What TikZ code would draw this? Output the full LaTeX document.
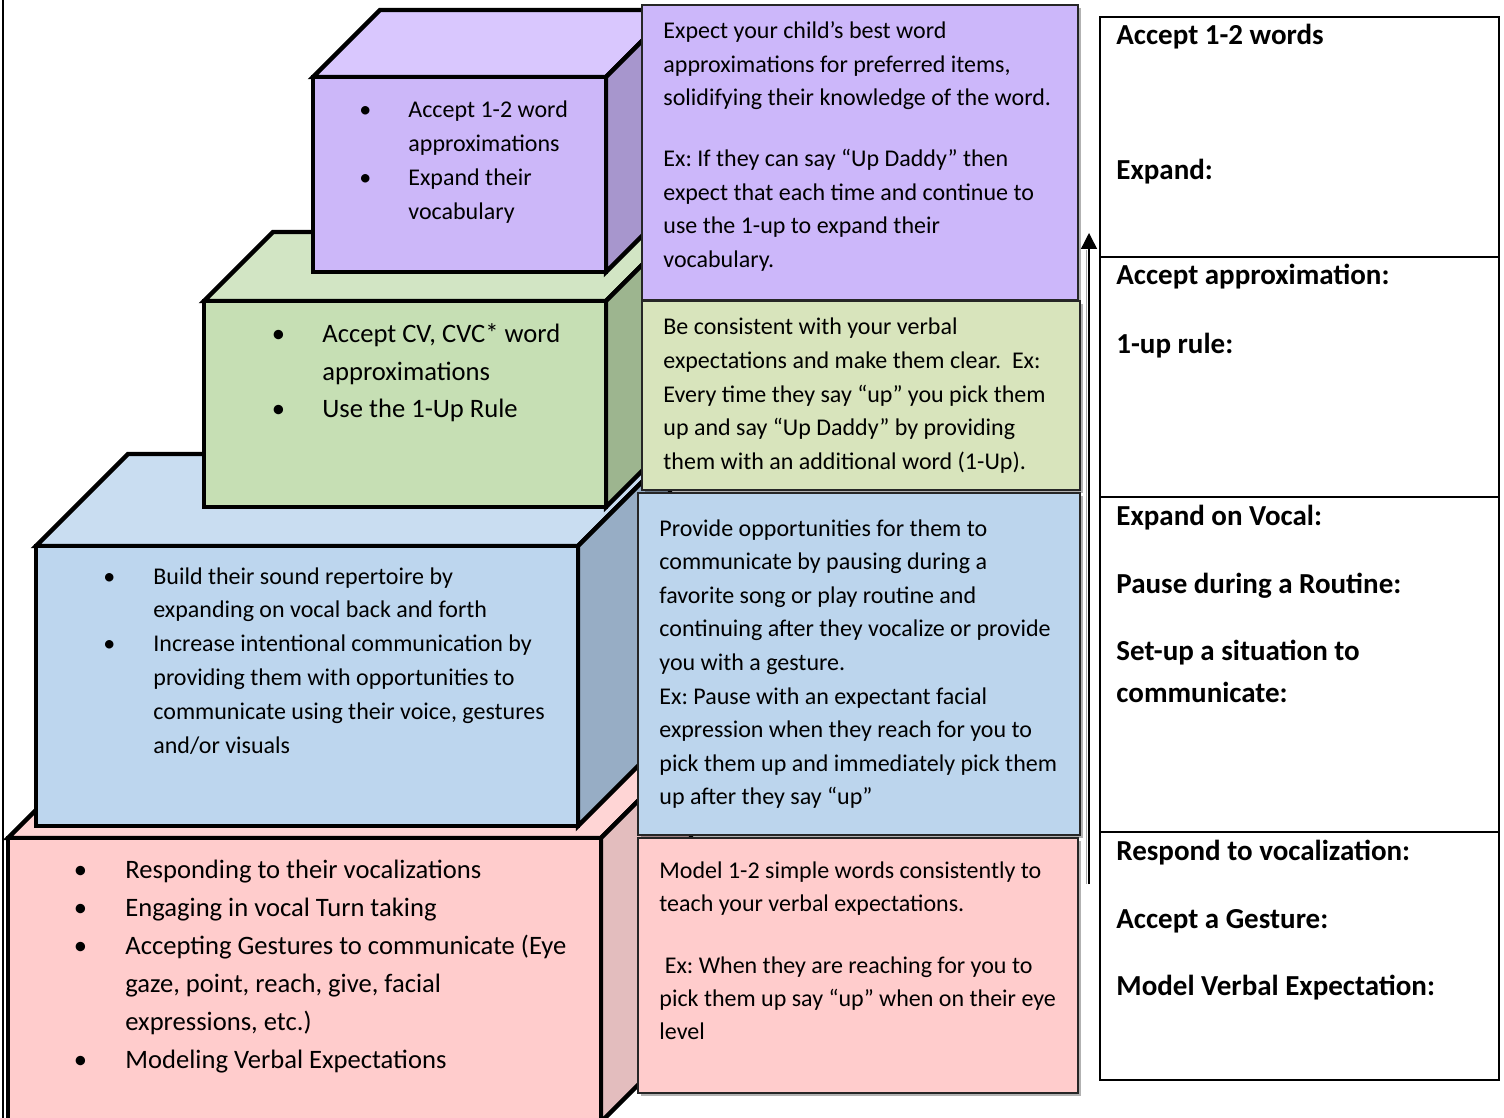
\documentclass[tikz,border=0pt]{standalone}
\usepackage{fontspec}
\setmainfont{Carlito}
\usetikzlibrary{arrows.meta,shadows}
\frenchspacing

\definecolor{puT}{RGB}{217,199,254}
\definecolor{puF}{RGB}{204,183,249}
\definecolor{puR}{RGB}{167,150,205}
\definecolor{puM}{RGB}{204,183,250}
\definecolor{grT}{RGB}{210,229,196}
\definecolor{grF}{RGB}{198,223,180}
\definecolor{grR}{RGB}{157,181,143}
\definecolor{grM}{RGB}{216,228,188}
\definecolor{blT}{RGB}{201,221,241}
\definecolor{blF}{RGB}{189,214,238}
\definecolor{blR}{RGB}{151,173,197}
\definecolor{blM}{RGB}{188,213,237}
\definecolor{piT}{RGB}{255,213,213}
\definecolor{piF}{RGB}{255,204,204}
\definecolor{piR}{RGB}{227,189,190}
\definecolor{piM}{RGB}{255,204,204}

\newcommand\drawcube[8]{%
  \filldraw[cubeface, fill=#6] (#1,#2) -- (#1+#5,#2-#5) -- (#3+#5,#2-#5) -- (#3,#2) -- cycle;
  \filldraw[cubeface, fill=#8] (#3,#2) -- (#3+#5,#2-#5) -- (#3+#5,#4-#5) -- (#3,#4) -- cycle;
  \filldraw[cubeface, fill=#7] (#1,#2) rectangle (#3,#4);
}

\tikzset{
  cubeface/.style={draw=black, line width=2.2pt, line join=miter},
  midbox/.style={draw=black!85, line width=0.8pt,
    drop shadow={shadow xshift=1.3pt, shadow yshift=-1.3pt, opacity=0.3, fill=black}},
  txt/.style={inner sep=0pt, anchor=base west},
  lbl/.style={inner sep=0pt, anchor=base west, font=\fontsize{14.5}{17}\selectfont\bfseries},
  tblline/.style={draw=black, line width=1pt},
}

\begin{document}
\begin{tikzpicture}[x=0.5pt,y=-0.5pt]
\clip (0,0) rectangle (1504,1118);
\fill[white] (0,0) rectangle (1504,1118);

% left page edge
\coordinate (edgeT) at (3,0);
\coordinate (edgeB) at (3,1118);
\draw[line width=0.7pt] (edgeT) -- (edgeB);

% cubes (bottom to top)
\drawcube{8}{838}{601}{1122}{90}{piT}{piF}{piR}
\drawcube{36}{546}{578}{826}{92}{blT}{blF}{blR}
\drawcube{204}{301}{606}{507}{69}{grT}{grF}{grR}
\drawcube{313}{77}{606}{272}{67}{puT}{puF}{puR}

% cube texts
\node[txt] (cPu) at (365,118) {\fontsize{12}{16.85}\selectfont
 \begin{tabular}[t]{@{}l@{\hspace{21.5pt}}l@{}}
 \makebox[0pt]{•} & Accept 1-2 word\\
  & approximations\\
 \makebox[0pt]{•} & Expand their\\
  & vocabulary
 \end{tabular}};

\node[txt] (cGr) at (278,343) {\fontsize{13.3}{18.75}\selectfont
 \begin{tabular}[t]{@{}l@{\hspace{22pt}}l@{}}
 \makebox[0pt]{•} & Accept CV, CVC* word\\
  & approximations\\
 \makebox[0pt]{•} & Use the 1-Up Rule
 \end{tabular}};

\node[txt] (cBl) at (109,584) {\fontsize{12}{16.9}\selectfont
 \begin{tabular}[t]{@{}l@{\hspace{22pt}}l@{}}
 \makebox[0pt]{•} & Build their sound repertoire by\\
  & expanding on vocal back and forth\\
 \makebox[0pt]{•} & Increase intentional communication by\\
  & providing them with opportunities to\\
  & communicate using their voice, gestures\\
  & and/or visuals
 \end{tabular}};

\node[txt] (cPi) at (80,878) {\fontsize{13.3}{19}\selectfont
 \begin{tabular}[t]{@{}l@{\hspace{22.5pt}}l@{}}
 \makebox[0pt]{•} & Responding to their vocalizations\\
 \makebox[0pt]{•} & Engaging in vocal Turn taking\\
 \makebox[0pt]{•} & Accepting Gestures to communicate (Eye\\
  & gaze, point, reach, give, facial\\
  & expressions, etc.)\\
 \makebox[0pt]{•} & Modeling Verbal Expectations
 \end{tabular}};

% middle boxes
\path[midbox, fill=puM] (642,5) rectangle (1078,300);
\path[midbox, fill=grM] (642,301) rectangle (1080,490);
\path[midbox, fill=blM] (638,493) rectangle (1080,835);
\path[midbox, fill=piM] (638,838) rectangle (1078,1093);

\node[txt] (mPu) at (663,39) {\fontsize{12}{16.75}\selectfont
 \begin{tabular}[t]{@{}l@{}}
 Expect your child’s best word\\
 approximations for preferred items,\\
 solidifying their knowledge of the word.\\[13.75pt]
 Ex: If they can say “Up Daddy” then\\
 expect that each time and continue to\\
 use the 1-up to expand their\\
 vocabulary.
 \end{tabular}};

\node[txt] (mGr) at (663,335) {\fontsize{12}{16.75}\selectfont
 \begin{tabular}[t]{@{}l@{}}
 Be consistent with your verbal\\
 expectations and make them clear.\ \ Ex:\\
 Every time they say “up” you pick them\\
 up and say “Up Daddy” by providing\\
 them with an additional word (1-Up).
 \end{tabular}};

\node[txt] (mBl) at (659,536) {\fontsize{12}{16.8}\selectfont
 \begin{tabular}[t]{@{}l@{}}
 Provide opportunities for them to\\
 communicate by pausing during a\\
 favorite song or play routine and\\
 continuing after they vocalize or provide\\
 you with a gesture.\\
 Ex: Pause with an expectant facial\\
 expression when they reach for you to\\
 pick them up and immediately pick them\\
 up after they say “up”
 \end{tabular}};

\node[txt] (mPi) at (659,878) {\fontsize{12}{16.5}\selectfont
 \begin{tabular}[t]{@{}l@{}}
 Model 1-2 simple words consistently to\\
 teach your verbal expectations.\\[14.5pt]
 \ Ex: When they are reaching for you to\\
 pick them up say “up” when on their eye\\
 level
 \end{tabular}};

% arrow
\coordinate (arrS) at (1089,884);
\coordinate (arrE) at (1089,233);
\draw[black!35, line width=0.6pt] ([xshift=-1.2pt]arrS) -- ([xshift=-1.2pt]1089,250);
\draw[line width=0.7pt, -{Triangle[width=8pt,length=8pt]}] (arrS) -- (arrE);

% right table
\draw[tblline] (1100,17) rectangle (1499,1080);
\draw[tblline] (1100,257) -- (1499,257);
\draw[tblline] (1100,497) -- (1499,497);
\draw[tblline] (1100,832) -- (1499,832);

\node[lbl] (r1) at (1116,45) {Accept 1-2 words};
\node[lbl] (r2) at (1116,180) {Expand:};
\node[lbl] (r3) at (1116,285) {Accept approximation:};
\node[lbl] (r4) at (1116,353) {1-up rule:};
\node[lbl] (r5) at (1116,525) {Expand on Vocal:};
\node[lbl] (r6) at (1116,593) {Pause during a Routine:};
\node[lbl] (r7) at (1116,660) {Set-up a situation to};
\node[lbl] (r8) at (1116,702) {communicate:};
\node[lbl] (r9) at (1116,860) {Respond to vocalization:};
\node[lbl] (r10) at (1116,928) {Accept a Gesture:};
\node[lbl] (r11) at (1116,995) {Model Verbal Expectation:};
\end{tikzpicture}
\end{document}
